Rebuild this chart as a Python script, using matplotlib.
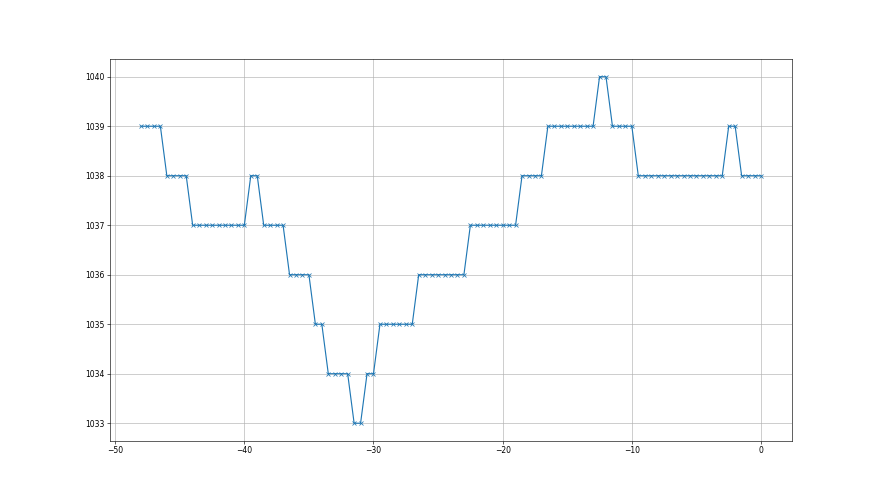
import numpy as np
import matplotlib
matplotlib.use("Agg")
import matplotlib.pyplot as plt

# time offsets (every half unit from -48 to 0)
x_start, x_end, x_step = -48.0, 0.0, 0.5
x = np.arange(x_start, x_end + x_step / 2, x_step)

y = [1039, 1039, 1039, 1039,
     1038, 1038, 1038, 1038,
     1037, 1037, 1037, 1037, 1037, 1037, 1037, 1037, 1037,
     1038, 1038,
     1037, 1037, 1037, 1037,
     1036, 1036, 1036, 1036,
     1035, 1035,
     1034, 1034, 1034, 1034,
     1033, 1033,
     1034, 1034,
     1035, 1035, 1035, 1035, 1035, 1035,
     1036, 1036, 1036, 1036, 1036, 1036, 1036, 1036,
     1037, 1037, 1037, 1037, 1037, 1037, 1037, 1037,
     1038, 1038, 1038, 1038,
     1039, 1039, 1039, 1039, 1039, 1039, 1039, 1039,
     1040, 1040,
     1039, 1039, 1039, 1039,
     1038, 1038, 1038, 1038, 1038, 1038, 1038, 1038, 1038, 1038, 1038, 1038, 1038, 1038,
     1039, 1039,
     1038, 1038, 1038, 1038]

fig, ax = plt.subplots(figsize=(16, 9), dpi=55)
ax.plot(x, y, marker='x', color='#1f77b4')
ax.grid(True)
fig.savefig("out.png", dpi=55)
